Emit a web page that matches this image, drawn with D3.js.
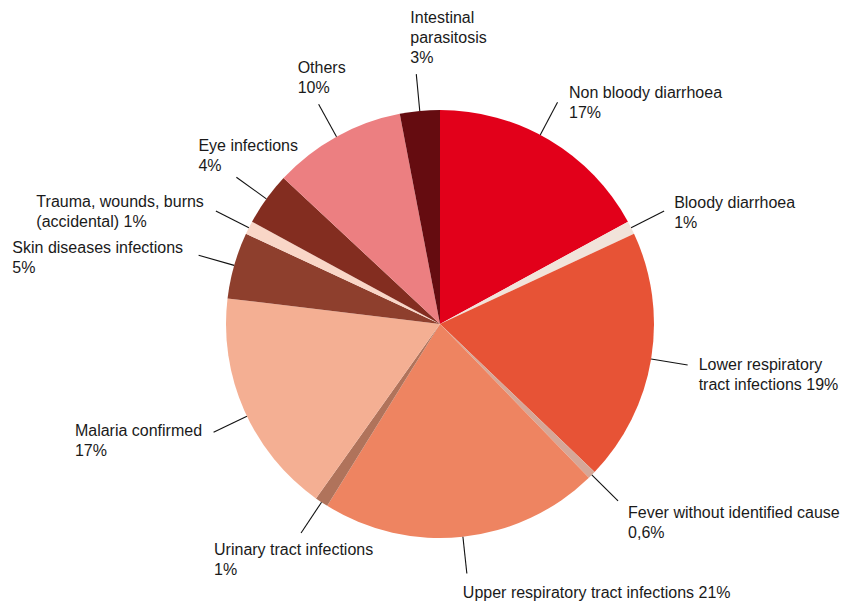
<!DOCTYPE html>
<html>
<head>
<meta charset="utf-8">
<title>Morbidity</title>
<script src="https://cdn.jsdelivr.net/npm/d3@7"></script>
<style>
  body { margin: 0; background: #fff; }
  text { font-family: "Liberation Sans", Arial, sans-serif; font-size: 16px; fill: #1a1a1a; }
</style>
</head>
<body>
<script>
// categories, clockwise from 12 o'clock
var categories = [
  "Non bloody diarrhoea",
  "Bloody diarrhoea",
  "Lower respiratory tract infections",
  "Fever without identified cause",
  "Upper respiratory tract infections",
  "Urinary tract infections",
  "Malaria confirmed",
  "Skin diseases infections",
  "Trauma, wounds, burns (accidental)",
  "Eye infections",
  "Others",
  "Intestinal parasitosis"
];

var values = [17, 1, 19, 0.6, 21, 1, 17, 5, 1, 4, 10, 3];

// label text, one entry per line
var labelLines = [
  ["Non bloody diarrhoea", "17%"],
  ["Bloody diarrhoea", "1%"],
  ["Lower respiratory", "tract infections 19%"],
  ["Fever without identified cause", "0,6%"],
  ["Upper respiratory tract infections 21%"],
  ["Urinary tract infections", "1%"],
  ["Malaria confirmed", "17%"],
  ["Skin diseases infections", "5%"],
  ["Trauma, wounds, burns", "(accidental) 1%"],
  ["Eye infections", "4%"],
  ["Others", "10%"],
  ["Intestinal", "parasitosis", "3%"]
];

var colors = [
  "#e2001a", "#f1e3da", "#e75336", "#d6a797", "#ee8461", "#b0735b",
  "#f4af93", "#8e3f2d", "#f9d6c7", "#832d20", "#ec7f81", "#650c10"
];

var width = 853,
    height = 602,
    cx = 440,
    cy = 324,
    radius = 214,
    lineEnd = 251,
    lineHeight = 20;

// where each label block sits relative to the end of its leader line
// side "r": block starts at dx; side "l": first line ends at dx
// shift: small nudge of the leader angle (degrees)
var labelPlace = [
  {side: "r", dx: 11.5, dy: -4, shift: -2.8},
  {side: "r", dx: 10, dy: -3},
  {side: "r", dx: 11, dy: 5},
  {side: "r", dx: 10, dy: 17},
  {side: "r", dx: -4, dy: 24.5},
  {side: "r", dx: -87, dy: 22},
  {side: "l", dx: -11.5, dy: 3.5, shift: -1.7},
  {side: "l", dx: -15.5, dy: -2},
  {side: "l", dx: -12, dy: -4},
  {side: "r", dx: -38, dy: -26},
  {side: "r", dx: -21, dy: -31},
  {side: "r", dx: -6, dy: -51}
];

var data = categories.map(function(c, i) {
  return {name: c, value: values[i], color: colors[i], lines: labelLines[i], place: labelPlace[i]};
});

var svg = d3.select("body")
  .append("svg")
  .attr("width", width)
  .attr("height", height);

var g = svg.append("g")
  .attr("transform", "translate(" + cx + "," + cy + ")");

var pie = d3.pie()
  .sort(null)
  .value(function(d) { return d.value; });

var arc = d3.arc()
  .innerRadius(0)
  .outerRadius(radius);

var arcs = pie(data);

// slices
g.selectAll("path.slice")
  .data(arcs)
  .enter()
  .append("path")
  .attr("class", "slice")
  .attr("d", arc)
  .attr("fill", function(d) { return d.data.color; });

function labelAngle(d) {
  var shift = d.data.place.shift || 0;
  return (d.startAngle + d.endAngle) / 2 + shift * Math.PI / 180;
}

// leader lines, radial from the rim
g.selectAll("line.leader")
  .data(arcs)
  .enter()
  .append("line")
  .attr("class", "leader")
  .attr("x1", function(d) { return radius * Math.sin(labelAngle(d)); })
  .attr("y1", function(d) { return -radius * Math.cos(labelAngle(d)); })
  .attr("x2", function(d) { return lineEnd * Math.sin(labelAngle(d)); })
  .attr("y2", function(d) { return -lineEnd * Math.cos(labelAngle(d)); })
  .attr("stroke", "#111")
  .attr("stroke-width", 1.1);

// labels
var labels = g.selectAll("text.label")
  .data(arcs)
  .enter()
  .append("text")
  .attr("class", "label");

labels.each(function(d) {
  var t = d3.select(this);
  d.data.lines.forEach(function(line, k) {
    t.append("tspan")
      .attr("x", 0)
      .attr("dy", k === 0 ? 0 : lineHeight)
      .text(line);
  });
});

labels.attr("transform", function(d) {
  var a = labelAngle(d);
  var ex = lineEnd * Math.sin(a),
      ey = -lineEnd * Math.cos(a);
  var p = d.data.place;
  var x = ex + p.dx;
  if (p.side === "l") {
    x -= this.querySelector("tspan").getComputedTextLength();
  }
  return "translate(" + x + "," + (ey + p.dy) + ")";
});
</script>
</body>
</html>
